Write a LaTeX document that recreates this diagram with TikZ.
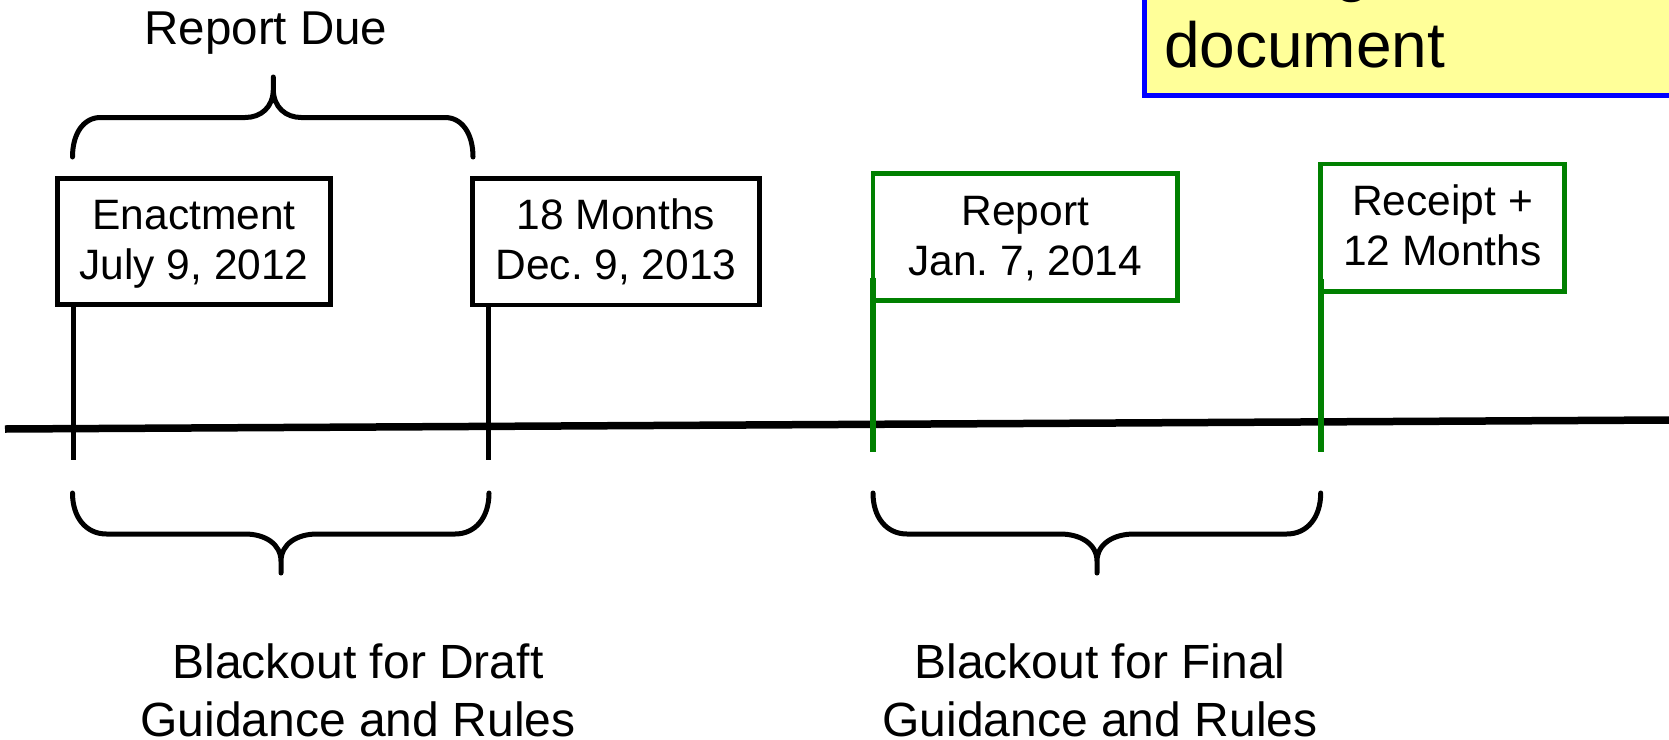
\documentclass[tikz,border=0pt]{standalone}
\usepackage{fontspec}
\setmainfont{Liberation Sans}
\frenchspacing
\definecolor{flaggreen}{RGB}{0,128,0}
\definecolor{noteyellow}{RGB}{255,255,153}
\definecolor{noteblue}{RGB}{0,0,255}
% curly brace: #1 left end x, #2 right end x, #3 tip x,
% #4 end y, #5 bar y, #6 tip y, #7 corner width, #8 tip width
\newcommand{\curlybrace}[8]{%
  \draw[bracestroke]
    (#1,#4) .. controls (#1,{#4+0.6*(#5-#4)}) and ({#1+0.4*#7},#5) .. ({#1+#7},#5)
    -- ({#3-#8},#5) .. controls ({#3-0.45*#8},#5) and (#3,{#5+0.25*(#6-#5)}) .. (#3,{#5+0.7*(#6-#5)})
    -- (#3,#6)
    (#2,#4) .. controls (#2,{#4+0.6*(#5-#4)}) and ({#2-0.4*#7},#5) .. ({#2-#7},#5)
    -- ({#3+#8},#5) .. controls ({#3+0.45*#8},#5) and (#3,{#5+0.25*(#6-#5)}) .. (#3,{#5+0.7*(#6-#5)});
}
% two centred lines of a milestone box, set slightly low in the box
\newcommand{\boxlines}[2]{%
  \raisebox{-3pt}[\height][\depth]{\begin{tabular}{@{}c@{}}#1\\#2\end{tabular}}}
\begin{document}
\begin{tikzpicture}[x=1pt,y=-1pt,
  datebox/.style={draw=black, line width=4.5pt, inner sep=0pt,
    font=\fontsize{42.5}{50}\selectfont},
  greenbox/.style={datebox, draw=flaggreen},
  blackpost/.style={draw=black, line width=5.5pt},
  greenpost/.style={draw=flaggreen, line width=5.5pt},
  bracestroke/.style={draw=black, line width=5pt, line cap=round, line join=round},
  captxt/.style={inner sep=0pt, font=\fontsize{48}{58}\selectfont},
  timeline/.style={draw=black, line width=7.5pt}]

\useasboundingbox (0,0) rectangle (1669,739);
\clip (0,0) rectangle (1669,739);

% note box in the upper right corner
\node[draw=noteblue, fill=noteyellow, line width=5pt, inner sep=0pt,
      minimum width=700pt, minimum height=250pt, anchor=south west]
      (note) at (1142,98) {};
\node[anchor=base west, inner sep=0pt, font=\fontsize{64}{78}\selectfont]
      (notetext) at (1164,67)
      {\begin{tabular}[b]{@{}l@{}}Not a guidance\\document\end{tabular}};

% time axis
\coordinate (tlstart) at (5,429);
\coordinate (tlend) at (1669,420);
\draw[timeline] (tlstart) -- (tlend);

% milestone boxes
\node[datebox, minimum width=273pt, minimum height=126pt] (enact) at (194,241.5)
  {\boxlines{Enactment}{July 9, 2012}};
\node[datebox, minimum width=287pt, minimum height=126.5pt] (eighteen) at (616,241.75)
  {\boxlines{18 Months}{Dec. 9, 2013}};
\node[greenbox, minimum width=304.5pt, minimum height=126.6pt] (report) at (1025.25,237)
  {\boxlines{Report}{Jan. 7, 2014}};
\node[greenbox, minimum width=244pt, minimum height=127.5pt] (receipt) at (1442.5,227.75)
  {\boxlines{Receipt +}{12 Months}};

% posts down to the axis
\coordinate (p1) at (73.5,460);
\coordinate (p2) at (488.5,460);
\coordinate (p3) at (873,452);
\coordinate (p4) at (1321,452);
\draw[blackpost] (enact.south -| p1) -- (p1);
\draw[blackpost] (eighteen.south -| p2) -- (p2);
\draw[greenpost] ([yshift=25pt]report.south -| p3) -- (p3);
\draw[greenpost] ([yshift=15pt]receipt.south -| p4) -- (p4);

% braces
\curlybrace{72.5}{473}{273.3}{157}{117.5}{77}{28}{28}
\curlybrace{72.5}{489}{281}{493}{534}{573}{34}{36}
\curlybrace{873}{1320.7}{1097}{493}{534}{573}{34}{37}

% captions
\node[inner sep=0pt, anchor=base, font=\fontsize{47.5}{56}\selectfont]
  (duetxt) at (266,44) {Report Due};
\node[captxt] (draftlbl) at (358,695.4)
  {\begin{tabular}{@{}c@{}}Blackout for Draft\\Guidance and Rules\end{tabular}};
\node[captxt] (finallbl) at (1100,695.4)
  {\begin{tabular}{@{}c@{}}Blackout for Final\\Guidance and Rules\end{tabular}};
\end{tikzpicture}
\end{document}
